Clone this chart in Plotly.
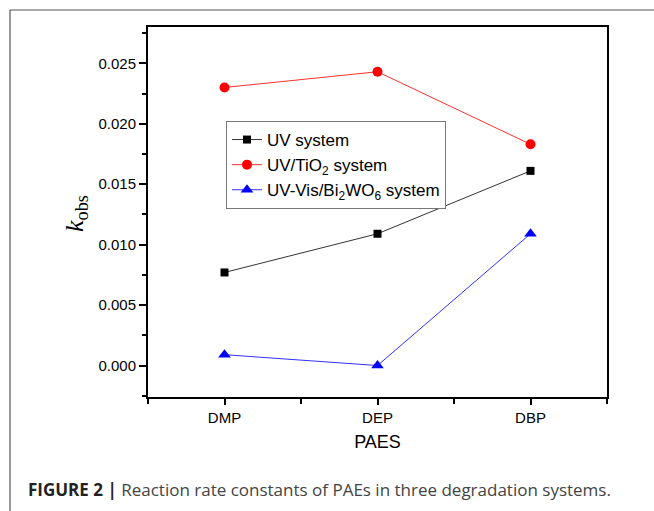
import plotly.graph_objects as go

categories = ["DMP", "DEP", "DBP"]
uv_system = [0.00770, 0.01090, 0.01610]
uv_tio2_system = [0.02300, 0.02430, 0.01830]
uv_vis_bi2wo6_system = [0.00090, 0.00000, 0.01090]
y_ticks = [0.000, 0.005, 0.010, 0.015, 0.020, 0.025]
y_tick_labels = ["0.000", "0.005", "0.010", "0.015", "0.020", "0.025"]

xpos = list(range(len(categories)))

W, H = 654, 511
L, R, T, B = 148, 47, 27, 114
pw, ph = W - L - R, H - T - B

def px(x):
    return (x - L) / pw

def py(y):
    return (H - B - y) / ph

fig = go.Figure()
fig.add_trace(go.Scatter(
    x=xpos, y=uv_system, mode="lines+markers", name="UV system",
    line=dict(color="#333333", width=1),
    marker=dict(symbol="square", size=8, color="black"),
))
fig.add_trace(go.Scatter(
    x=xpos, y=uv_tio2_system, mode="lines+markers", name="UV/TiO<sub>2</sub> system",
    line=dict(color="#FF3030", width=1),
    marker=dict(symbol="circle", size=10, color="#FF0000"),
))
fig.add_trace(go.Scatter(
    x=xpos, y=uv_vis_bi2wo6_system, mode="lines+markers",
    name="UV-Vis/Bi<sub>2</sub>WO<sub>6</sub> system",
    line=dict(color="#3030FF", width=1),
    marker=dict(symbol="triangle-up", size=11, color="#0000FF"),
))

axis_font = dict(family="Liberation Sans, Arial, sans-serif", size=15, color="black")

fig.update_layout(
    width=W, height=H,
    margin=dict(l=L, r=R, t=T, b=B),
    paper_bgcolor="white", plot_bgcolor="white",
    showlegend=True,
    legend=dict(
        x=px(226), y=py(121), xanchor="left", yanchor="top",
        bordercolor="#777777", borderwidth=1, bgcolor="white",
        font=dict(family="Liberation Sans, Arial, sans-serif", size=17, color="black"),
        tracegroupgap=0, itemsizing="trace",
    ),
    xaxis=dict(
        range=[-0.5, len(categories) - 0.5],
        tickvals=xpos, ticktext=categories,
        ticks="outside", ticklen=6, tickwidth=1.5, tickcolor="black",
        showline=True, linecolor="black", linewidth=2, mirror=True,
        showgrid=False, zeroline=False, tickfont=axis_font,
        minor=dict(tickvals=[p + 0.5 for p in [-1] + xpos], ticks="outside",
                   ticklen=5, tickwidth=1.5, tickcolor="black", showgrid=False),
        title=dict(text="PAES", font=dict(family="Liberation Sans, Arial, sans-serif",
                                         size=18, color="black"), standoff=10),
    ),
    yaxis=dict(
        range=[-0.0026, 0.028],
        tickvals=y_ticks, ticktext=y_tick_labels,
        ticks="outside", ticklen=7, tickwidth=1.5, tickcolor="black",
        showline=True, linecolor="black", linewidth=2, mirror=True,
        showgrid=False, zeroline=False, tickfont=axis_font,
        minor=dict(dtick=0.0025, tick0=0, ticks="outside", ticklen=4,
                   tickwidth=1.5, tickcolor="black", showgrid=False),
    ),
    annotations=[
        dict(
            text="<i>k</i><sub>obs</sub>", xref="paper", yref="paper",
            x=px(76), y=py(214), xanchor="center", yanchor="middle",
            textangle=-90, showarrow=False,
            font=dict(family="Liberation Serif, Times New Roman, serif", size=26, color="black"),
        ),
        dict(
            text="<b>FIGURE 2 |</b> <span style='color:#444444'>Reaction rate constants of PAEs in three degradation systems.</span>",
            xref="paper", yref="paper", x=px(26), y=py(489),
            xanchor="left", yanchor="middle", showarrow=False,
            font=dict(family="Open Sans, Liberation Sans, sans-serif", size=17, color="#222222"),
        ),
    ],
    shapes=[
        dict(type="line", xref="paper", yref="paper",
             x0=px(10), y0=py(10), x1=px(W + 5), y1=py(10),
             line=dict(color="#555555", width=1.2)),
        dict(type="line", xref="paper", yref="paper",
             x0=px(10), y0=py(10), x1=px(10), y1=py(H + 5),
             line=dict(color="#555555", width=1.2)),
    ],
)

fig.write_html(
    "out.html",
    config={"displayModeBar": False},
    post_script="document.body.style.margin='0px';document.body.style.padding='0px';",
)
